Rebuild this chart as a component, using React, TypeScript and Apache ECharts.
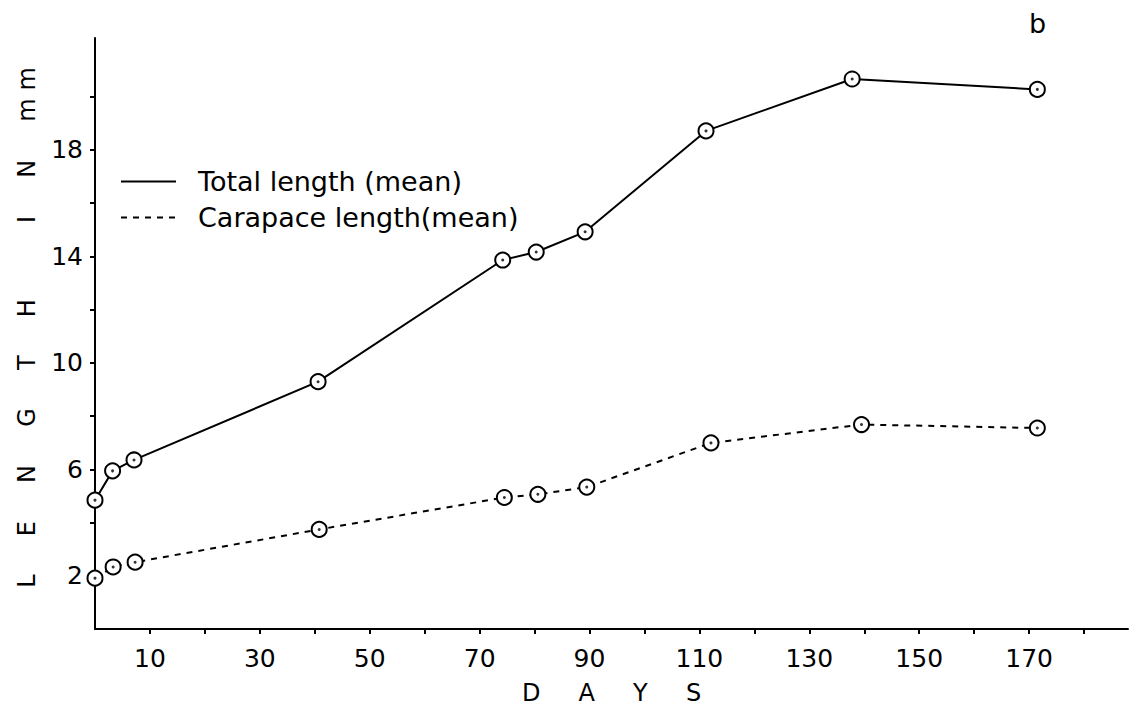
import React, { useEffect, useRef } from "react";
import * as echarts from "echarts";

const totalDays = [0, 3.2, 7.1, 40.6, 74.2, 80.3, 89.2, 111.2, 137.8, 171.5];
const totalLength = [4.84, 5.94, 6.35, 9.29, 13.86, 14.16, 14.92, 18.71, 20.66, 20.27];
const carapaceDays = [0, 3.3, 7.3, 40.8, 74.5, 80.6, 89.5, 112.1, 139.5, 171.5];
const carapaceLength = [1.91, 2.33, 2.51, 3.74, 4.94, 5.06, 5.33, 6.99, 7.68, 7.55];
const xTickLabels = [10, 30, 50, 70, 90, 110, 130, 150, 170];
const xTickMarks = [10, 20, 30, 40, 50, 60, 70, 80, 90, 100, 110, 120, 130, 140, 150, 160, 170, 180];
const yTickLabels = [2, 6, 10, 14, 18];
const yTickMarks = [2, 4, 6, 8, 10, 12, 14, 16, 18, 20];
const seriesNames = ["Total length (mean)", "Carapace length(mean)"];

const FONT = "DejaVu Sans";

export default function App() {
  const ref = useRef<HTMLDivElement>(null);
  useEffect(() => {
    if (!ref.current) return;
    const chart = echarts.init(ref.current, null, { renderer: "svg" });
    const totalData = totalDays.map((d, i) => [d, totalLength[i]]);
    const carData = carapaceDays.map((d, i) => [d, carapaceLength[i]]);
    chart.setOption({
      animation: false,
      backgroundColor: "#fff",
      title: {
        text: "b",
        left: 1024,
        top: 5,
        textStyle: { fontSize: 27, fontWeight: "normal", color: "#000", fontFamily: FONT },
      },
      legend: {
        data: seriesNames,
        orient: "vertical",
        left: 115,
        top: 163,
        itemWidth: 55,
        itemHeight: 25,
        itemGap: 9,
        itemStyle: { opacity: 0 },
        textStyle: {
          fontSize: 27,
          lineHeight: 25,
          color: "#000",
          fontFamily: FONT,
          padding: [0, 0, 0, 17],
        },
      },
      grid: { left: 95, top: 38, right: 2, bottom: 79, containLabel: false },
      xAxis: {
        type: "value",
        min: 0,
        max: 188,
        interval: 10,
        name: "D     A     Y     S",
        nameLocation: "middle",
        nameGap: 52,
        nameTextStyle: { fontSize: 24, color: "#000", fontFamily: FONT },
        axisLine: { lineStyle: { color: "#000", width: 2 } },
        axisTick: {
          show: true,
          inside: false,
          length: 5,
          customValues: xTickMarks,
          lineStyle: { color: "#000", width: 2 },
        },
        axisLabel: {
          margin: 17,
          fontSize: 25,
          color: "#000",
          fontFamily: FONT,
          customValues: xTickLabels,
          formatter: (v: number) => String(v),
        },
        splitLine: { show: false },
      },
      yAxis: {
        type: "value",
        min: 0,
        max: 22.2,
        interval: 2,
        name: "L     E     N     G     T     H          I     N     m m",
        nameLocation: "middle",
        nameRotate: 90,
        nameGap: 56,
        nameTextStyle: {
          fontSize: 24,
          color: "#000",
          fontFamily: FONT,
          padding: [0, 0, 0, 12],
        },
        axisLine: { show: true, lineStyle: { color: "#000", width: 2 } },
        axisTick: {
          show: true,
          inside: false,
          length: 5,
          customValues: yTickMarks,
          lineStyle: { color: "#000", width: 2 },
        },
        axisLabel: {
          margin: 12,
          fontSize: 25,
          color: "#000",
          fontFamily: FONT,
          customValues: yTickLabels,
          formatter: (v: number) => String(v),
        },
        splitLine: { show: false },
      },
      series: [
        {
          name: seriesNames[0],
          type: "line",
          data: totalData,
          symbol: "circle",
          symbolSize: 15,
          lineStyle: { color: "#000", width: 2, type: "solid" },
          itemStyle: { color: "#fff", borderColor: "#000", borderWidth: 2 },
          z: 3,
        },
        {
          name: seriesNames[1],
          type: "line",
          data: carData,
          symbol: "circle",
          symbolSize: 15,
          lineStyle: { color: "#000", width: 2, type: [6, 6] },
          itemStyle: { color: "#fff", borderColor: "#000", borderWidth: 2 },
          z: 3,
        },
        {
          name: "total-dots",
          type: "scatter",
          data: totalData,
          symbol: "circle",
          symbolSize: 3,
          itemStyle: { color: "#000" },
          z: 5,
        },
        {
          name: "carapace-dots",
          type: "scatter",
          data: carData,
          symbol: "circle",
          symbolSize: 3,
          itemStyle: { color: "#000" },
          z: 5,
        },
      ],
    });
    return () => chart.dispose();
  }, []);
  return (
    <div
      ref={ref}
      style={{ position: "fixed", left: 0, top: 0, width: 1130, height: 710 }}
    />
  );
}
